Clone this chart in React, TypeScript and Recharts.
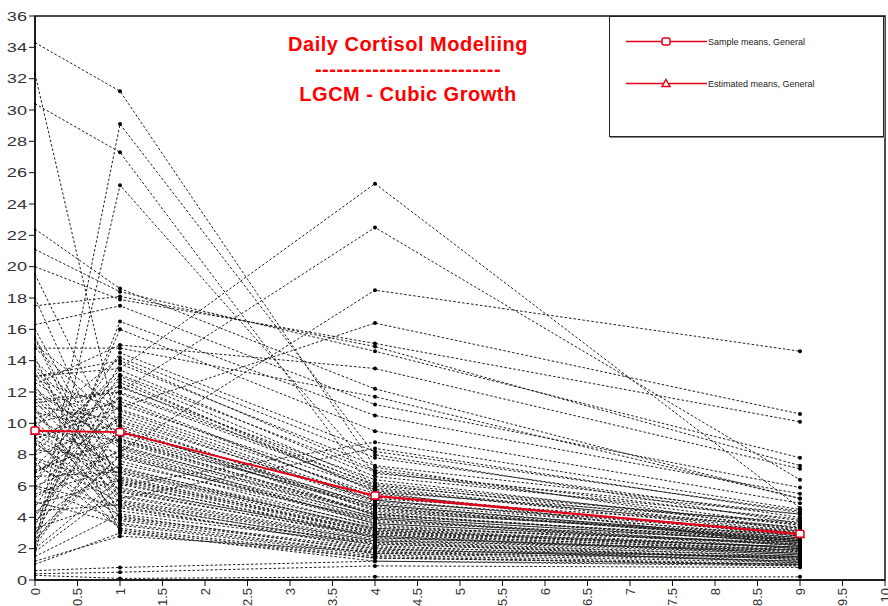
import React from 'react';
import { LineChart, Line, XAxis, YAxis, ReferenceArea } from 'recharts';

// measurement occasions (hours after waking)
const timePoints = [0, 1, 4, 9];

// individual cortisol values, one entry per subject
const cortisolT0 = [
  34.3, 32.3, 30.4, 2.1, 1.6, 22.4, 21.1, 20.0, 19.5, 17.5,
  16.3, 2.8, 3.4, 13.0, 11.5, 6.0, 9.0, 12.5, 14.8, 18.0,
  15.5, 0.6, 0.4, 0.3, 1.2, 1.0, 1.5, 2.0, 2.4, 2.9,
  3.3, 3.8, 4.2, 4.6, 5.0, 5.3, 5.7, 6.0, 6.3, 6.6,
  6.9, 7.2, 7.5, 7.8, 8.0, 8.3, 8.5, 8.8, 9.0, 9.3,
  9.6, 9.8, 10.1, 10.4, 10.7, 11.0, 11.3, 11.6, 12.0, 12.4,
  12.8, 13.2, 13.7, 14.2, 14.8, 15.4, 16.0, 1.8, 2.6, 3.6,
  4.4, 5.5, 6.8, 7.4, 8.1, 8.7, 9.4, 10.0, 10.9, 11.8,
  12.6, 13.5, 4.0, 5.9, 7.0, 8.9, 9.9, 11.1, 12.2, 3.0,
  6.2, 7.7, 10.3, 13.0, 2.2, 4.8, 9.1, 11.4, 14.0, 15.0,
];
const cortisolT1 = [
  31.2, 9.0, 27.3, 29.1, 25.2, 18.6, 18.4, 17.9, 8.5, 18.1,
  17.5, 16.5, 16.0, 13.5, 12.0, 8.2, 11.0, 15.0, 14.8, 6.0,
  5.2, 0.8, 0.5, 0.1, 2.8, 3.0, 4.2, 6.5, 9.8, 12.3,
  5.1, 7.4, 10.6, 13.8, 3.6, 8.3, 11.2, 4.7, 14.5, 6.9,
  9.2, 12.8, 3.3, 5.8, 10.1, 7.8, 13.1, 4.4, 11.6, 6.2,
  8.9, 14.2, 5.4, 7.1, 9.5, 3.9, 12.0, 6.6, 8.6, 4.9,
  10.9, 5.6, 7.6, 3.1, 9.9, 4.0, 6.3, 5.9, 8.0, 11.9,
  4.8, 7.2, 10.4, 4.1, 13.4, 5.3, 8.1, 11.4, 3.5, 7.0,
  9.4, 6.1, 12.6, 3.8, 9.0, 6.8, 4.6, 10.2, 8.4, 7.9,
  13.0, 5.0, 12.4, 14.0, 9.6, 6.4, 3.2, 5.7, 8.8, 10.8,
];
const cortisolT4 = [
  7.2, 4.8, 5.6, 8.0, 6.8, 12.2, 14.6, 15.1, 4.2, 14.9,
  11.2, 10.5, 9.5, 25.3, 22.5, 18.5, 16.4, 13.5, 11.7, 8.8,
  8.4, 1.2, 0.9, 0.2, 1.8, 1.4, 2.3, 3.0, 4.1, 6.4,
  2.5, 3.9, 5.0, 7.3, 1.7, 3.6, 5.8, 2.0, 8.2, 3.3,
  4.6, 5.6, 1.5, 2.9, 4.4, 3.8, 6.9, 2.4, 5.2, 2.7,
  4.3, 7.8, 2.6, 3.5, 4.8, 1.9, 6.1, 3.1, 4.0, 2.2,
  5.5, 2.8, 3.4, 1.2, 4.7, 2.0, 3.0, 2.8, 3.7, 5.9,
  2.3, 3.2, 4.9, 1.8, 6.6, 2.5, 3.9, 5.3, 1.6, 3.3,
  4.5, 2.9, 6.0, 1.7, 4.2, 3.2, 2.1, 5.1, 4.0, 3.6,
  6.2, 2.4, 5.7, 7.0, 4.6, 3.1, 1.4, 2.7, 4.2, 5.1,
];
const cortisolT9 = [
  3.1, 2.5, 2.2, 3.6, 4.2, 5.2, 7.8, 10.1, 2.4, 7.3,
  5.9, 5.5, 4.9, 4.6, 6.4, 14.6, 10.6, 7.1, 5.2, 4.5,
  4.3, 1.0, 0.8, 0.2, 1.5, 1.0, 1.3, 2.1, 2.6, 3.3,
  1.9, 2.0, 3.1, 4.2, 1.4, 2.3, 3.0, 1.2, 4.4, 2.4,
  2.5, 3.7, 0.9, 1.7, 2.7, 2.2, 3.5, 1.3, 3.4, 1.8,
  2.9, 4.0, 1.6, 2.0, 2.6, 1.5, 3.2, 2.1, 2.4, 1.1,
  2.8, 1.6, 2.3, 0.9, 2.7, 1.2, 1.8, 1.7, 2.5, 3.1,
  1.4, 2.1, 2.8, 1.2, 3.9, 1.5, 2.2, 3.0, 1.0, 2.0,
  2.6, 1.9, 3.6, 1.1, 2.5, 1.9, 1.4, 2.7, 2.4, 2.2,
  3.5, 1.5, 3.3, 3.8, 2.6, 1.9, 1.0, 1.7, 2.5, 2.9,
];

const sampleMeans = [9.55, 9.45, 5.4, 2.95];
const estimatedMeans = [9.5, 9.45, 5.35, 2.9];

const xTicks = [0, 0.5, 1, 1.5, 2, 2.5, 3, 3.5, 4, 4.5, 5, 5.5, 6, 6.5, 7, 7.5, 8, 8.5, 9, 9.5, 10];
const yTicks = [0, 2, 4, 6, 8, 10, 12, 14, 16, 18, 20, 22, 24, 26, 28, 30, 32, 34, 36];

const titleLines = ['Daily Cortisol Modeliing', '--------------------------', 'LGCM - Cubic Growth'];
const legendLabels = ['Sample means, General', 'Estimated means, General'];

const RED = '#e3001b';
const FONT = '"Liberation Sans", Arial, Helvetica, sans-serif';

const subjects = cortisolT0.map((_, i) =>
  [cortisolT0[i], cortisolT1[i], cortisolT4[i], cortisolT9[i]].map((y, k) => ({ x: timePoints[k], y }))
);
const sampleMeanData = sampleMeans.map((y, k) => ({ x: timePoints[k], y }));
const estimatedMeanData = estimatedMeans.map((y, k) => ({ x: timePoints[k], y }));

function XTick(props: any) {
  const { x, y, payload } = props;
  return (
    <text
      x={x}
      y={y}
      transform={`rotate(-90 ${x} ${y})`}
      textAnchor="end"
      dominantBaseline="central"
      fontSize={13}
      fontFamily={FONT}
      fill="#333"
    >
      {payload.value}
    </text>
  );
}

function YTick(props: any) {
  const { x, y, payload } = props;
  return (
    <text
      transform={`translate(${x} ${y}) scale(1.4 1)`}
      textAnchor="end"
      dominantBaseline="central"
      fontSize={13}
      fontFamily={FONT}
      fill="#333"
    >
      {payload.value}
    </text>
  );
}

// points on the first occasion sit on the axis and show up only as small marks
const subjectDot = (p: any) => (
  <circle key={`d-${p.index}`} cx={p.cx} cy={p.cy} r={p.payload && p.payload.x === 0 ? 1.1 : 2} fill="#000" />
);

const squareDot = (p: any) => (
  <rect key={`sq-${p.index}`} x={p.cx - 4} y={p.cy - 3.5} width={8} height={7} rx={2}
    fill="#fff" stroke={RED} strokeWidth={1.5} />
);

const triangleDot = (p: any) => (
  <polygon key={`tr-${p.index}`}
    points={`${p.cx},${p.cy - 4} ${p.cx + 4},${p.cy + 3} ${p.cx - 4},${p.cy + 3}`}
    fill="#fff" stroke={RED} strokeWidth={1.5} />
);

function LegendBox() {
  const rows = [41.5, 83.5];
  return (
    <div style={{
      position: 'absolute', left: 609, top: 16, width: 273, height: 119,
      border: '1px solid #222', boxShadow: '1px 1px 0 #888', background: '#fff',
      fontFamily: FONT, fontSize: 9, color: '#222',
    }}>
      <svg width={273} height={119} style={{ position: 'absolute', left: 0, top: 0 }}>
        {rows.map((ry, i) => {
          const cy = ry - 17;
          const cx = 56;
          return (
            <g key={i}>
              <line x1={16} x2={97} y1={cy} y2={cy} stroke={RED} strokeWidth={1.5} />
              {i === 0 ? (
                <rect x={cx - 4} y={cy - 3.5} width={8} height={7} rx={2} fill="#fff" stroke={RED} strokeWidth={1.5} />
              ) : (
                <polygon points={`${cx},${cy - 4} ${cx + 4},${cy + 3} ${cx - 4},${cy + 3}`} fill="#fff" stroke={RED} strokeWidth={1.5} />
              )}
              <text x={98} y={cy} dominantBaseline="central" fontSize={9} fontFamily={FONT} fill="#222">
                {legendLabels[i]}
              </text>
            </g>
          );
        })}
      </svg>
    </div>
  );
}

export default function App() {
  const titleTops = [34, 59, 84];
  return (
    <div style={{ position: 'absolute', left: 0, top: 0, width: 888, height: 606, background: '#fff' }}>
      <LineChart width={888} height={606} margin={{ top: 16, right: 3, bottom: 0, left: 5 }}>
        <XAxis
          type="number"
          dataKey="x"
          domain={[0, 10]}
          ticks={xTicks}
          interval={0}
          height={26}
          tick={<XTick />}
          tickSize={6}
          axisLine={{ stroke: '#111', strokeWidth: 1.5 }}
          tickLine={{ stroke: '#111' }}
        />
        <YAxis
          type="number"
          dataKey="y"
          domain={[0, 36]}
          ticks={yTicks}
          interval={0}
          width={30}
          tick={<YTick />}
          tickSize={6}
          axisLine={{ stroke: '#111', strokeWidth: 1.5 }}
          tickLine={{ stroke: '#111' }}
        />
        <ReferenceArea x1={0} x2={10} y1={0} y2={36} fill="none" stroke="#111" strokeWidth={1.5} ifOverflow="visible" />
        {subjects.map((data, i) => (
          <Line
            key={`subj-${i}`}
            data={data}
            dataKey="y"
            type="linear"
            stroke="#1e1e1e"
            strokeWidth={1}
            strokeDasharray="2.5 2"
            dot={subjectDot}
            activeDot={false}
            isAnimationActive={false}
          />
        ))}
        <Line
          data={estimatedMeanData}
          dataKey="y"
          type="linear"
          stroke={RED}
          strokeWidth={1.5}
          dot={triangleDot}
          activeDot={false}
          isAnimationActive={false}
        />
        <Line
          data={sampleMeanData}
          dataKey="y"
          type="linear"
          stroke={RED}
          strokeWidth={1.5}
          dot={squareDot}
          activeDot={false}
          isAnimationActive={false}
        />
      </LineChart>
      {titleLines.map((t, i) => (
        <div key={i} style={{
          position: 'absolute', left: 208, top: titleTops[i], width: 400, textAlign: 'center',
          fontFamily: FONT, fontWeight: 'bold', fontSize: 20, lineHeight: '20px',
          letterSpacing: 0.5, color: '#ff0000',
        }}>
          {t}
        </div>
      ))}
      <LegendBox />
    </div>
  );
}
